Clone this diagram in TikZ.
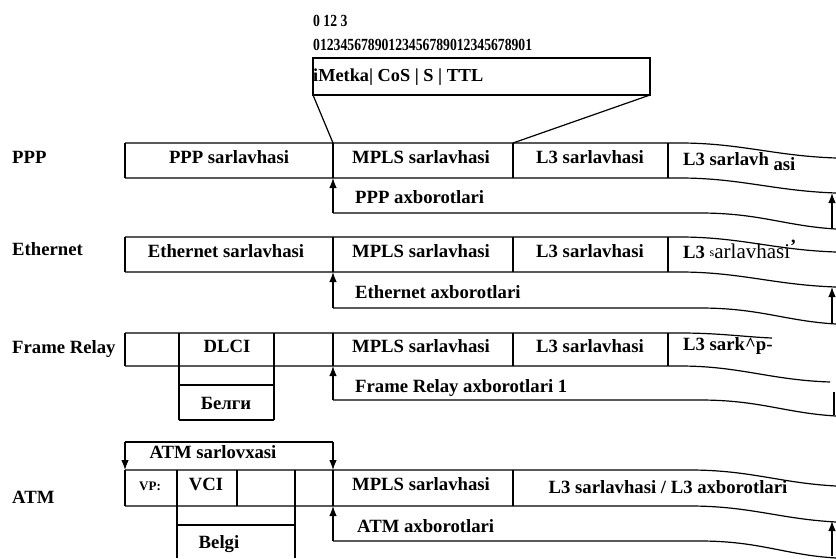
\documentclass[tikz,border=0pt]{standalone}
\usepackage{fontspec}
\setmainfont{Liberation Serif}
\usetikzlibrary{arrows.meta}
\begin{document}
\begin{tikzpicture}[x=1pt,y=-1pt,
  ln/.style={line width=1.2pt},
  ar/.style={ln,-{Latex[length=10pt,width=7.5pt]}},
  tx/.style={inner sep=0pt,anchor=base,font=\fontsize{18.7}{20}\bfseries\selectfont},
  txw/.style={tx,anchor=base west},
  bits/.style={txw,font=\fontsize{17}{18}\bfseries\selectfont},
]
\useasboundingbox (0,0) rectangle (836,558);

% ---------- top label structure ----------
\node[bits] (bits0) at (313,26) {\scalebox{0.805}[1]{0 12 3}};
\node[bits] (bits1) at (313,50) {\scalebox{0.805}[1]{01234567890123456789012345678901}};
\draw[ln] (313,58) rectangle (650,95);
\node[txw,font=\fontsize{18.3}{20}\bfseries\selectfont] (lab) at (313,81) {iMetka| CoS | S | TTL};
\coordinate (boxbl) at (313,95);
\coordinate (boxbr) at (650,95);
\coordinate (mplsL) at (333,143);
\coordinate (mplsR) at (513,143);
\draw[ln] (boxbl) -- (mplsL);
\draw[ln] (boxbr) -- (mplsR);

% ---------- row labels ----------
\node[txw] (lppp) at (12,163) {PPP};
\node[txw] (leth) at (12,255) {Ethernet};
\node[txw] (lfr) at (12,353) {Frame Relay};
\node[txw] (latm) at (12,503) {ATM};

% ---------- PPP ----------
\draw[ln] (125,143) -- (680,143) .. controls (740,143) and (775,156) .. (836,158);
\draw[ln] (125,178) -- (680,178) .. controls (740,178) and (775,191) .. (836,193);
\draw[ln] (125,143) -- (125,178) (333,143) -- (333,178) (513,143) -- (513,178) (668,143) -- (668,178);
\draw[ar] (333,213) -- (333,178);
\draw[ln] (333,213) -- (700,213) .. controls (760,213) and (785,226) .. (836,229);
\draw[ar] (832,228) -- (832,193);
\node[tx] (p1) at (229,163) {PPP sarlavhasi};
\node[tx] (p2) at (421,163) {MPLS sarlavhasi};
\node[tx] (p3) at (590,163) {L3 sarlavhasi};
\node[txw] (p4) at (683,165) {L3 sarlavh \raisebox{-5pt}{asi}};
\node[txw] (p5) at (355,203) {PPP axborotlari};

% ---------- Ethernet ----------
\draw[ln] (125,237) -- (680,237) .. controls (740,237) and (775,250) .. (836,252);
\draw[ln] (125,272) -- (680,272) .. controls (740,272) and (775,285) .. (836,287);
\draw[ln] (125,237) -- (125,272) (333,237) -- (333,272) (513,237) -- (513,272) (668,237) -- (668,272);
\draw[ar] (333,308) -- (333,272);
\draw[ln] (333,308) -- (700,308) .. controls (760,308) and (785,321) .. (836,324);
\draw[ar] (832,323) -- (832,287);
\node[tx] (e1) at (226,257) {Ethernet sarlavhasi};
\node[tx] (e2) at (421,257) {MPLS sarlavhasi};
\node[tx] (e3) at (590,257) {L3 sarlavhasi};
\node[txw] (e4) at (683,258) {L3 {\mdseries\raisebox{2pt}{\fontsize{12}{12}\selectfont s}\fontsize{21}{24}\selectfont arlavhasi}\raisebox{6pt}{’}};
\node[txw] (e5) at (355,298) {Ethernet axborotlari};

% ---------- Frame Relay ----------
\draw[ln] (125,333) -- (680,333) .. controls (720,333) and (745,337) .. (772,338);
\draw[ln] (125,366) -- (680,366) .. controls (740,366) and (770,380) .. (830,382);
\draw[ln] (125,333) -- (125,366) (179,333) -- (179,420) (274,333) -- (274,420)
          (333,333) -- (333,366) (513,333) -- (513,366) (668,333) -- (668,366);
\draw[ln] (179,385) -- (274,385) (179,420) -- (274,420);
\draw[ar] (333,400) -- (333,366);
\draw[ln] (333,400) -- (700,400) .. controls (760,400) and (785,413) .. (836,416);
\draw[line width=1.8pt] (834,392) -- (834,415);
\node[tx] (f1) at (227,352) {DLCI};
\node[tx] (f2) at (421,352) {MPLS sarlavhasi};
\node[tx] (f3) at (590,352) {L3 sarlavhasi};
\node[txw] (f4) at (683,350) {L3 sark\^{}p-};
\node[tx] (f5) at (226,409) {Белги};
\node[txw] (f6) at (355,392) {Frame Relay axborotlari 1};

% ---------- ATM ----------
\draw[ln] (125,442) -- (333,442);
\draw[ar] (125,442) -- (125,470);
\draw[ar] (333,442) -- (333,470);
\node[tx] (a0) at (213,458) {ATM sarlovxasi};
\draw[ln] (125,470) -- (690,470) .. controls (750,470) and (780,483) .. (836,486);
\draw[ln] (125,506) -- (690,506) .. controls (750,506) and (780,519) .. (836,522);
\draw[ln] (125,470) -- (125,506) (177,470) -- (177,558) (237,470) -- (237,506)
          (295,470) -- (295,558) (333,470) -- (333,506) (513,470) -- (513,506);
\draw[ln] (177,525) -- (295,525);
\draw[ar] (333,541) -- (333,506);
\draw[ln] (333,541) -- (700,541) .. controls (760,541) and (785,555) .. (836,558);
\draw[ar] (832,556) -- (832,521);
\node[tx,font=\fontsize{13}{14}\bfseries\selectfont] (a1) at (150,490) {VP:};
\node[tx] (a2) at (206,490) {VCI};
\node[tx] (a3) at (421,490) {MPLS sarlavhasi};
\node[tx] (a4) at (668,493) {L3 sarlavhasi / L3 axborotlari};
\node[tx] (a5) at (219,548) {Belgi};
\node[txw] (a6) at (357,532) {ATM axborotlari};
\end{tikzpicture}
\end{document}
